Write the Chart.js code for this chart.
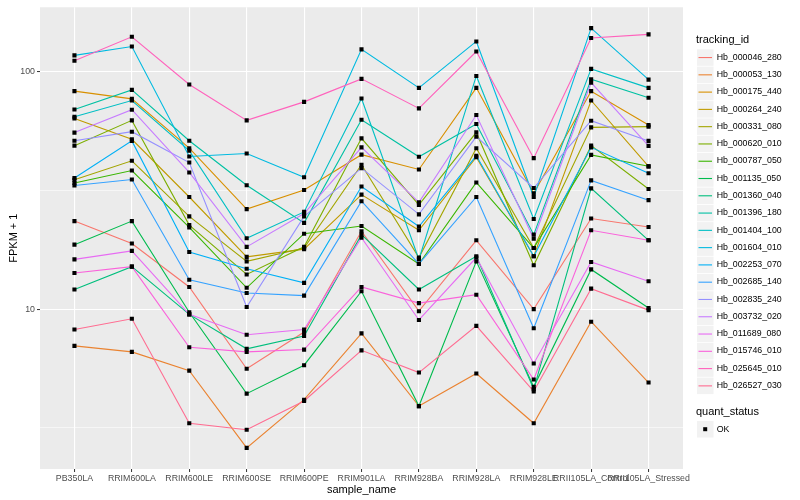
<!DOCTYPE html>
<html>
<head>
<meta charset="utf-8">
<script src="https://cdn.jsdelivr.net/npm/chart.js@4.4.1/dist/chart.umd.min.js"></script>
<style>
  html, body { margin: 0; padding: 0; background: #fff; }
  canvas { display: block; }
</style>
</head>
<body>
<canvas id="grafico_fpkm" width="800" height="500"></canvas>
<script>
const amostras = ["PB350LA", "RRIM600LA", "RRIM600LE", "RRIM600SE", "RRIM600PE", "RRIM901LA",
  "RRIM928BA", "RRIM928LA", "RRIM928LE", "RRII105LA_Control", "RRII105LA_Stressed"];

// FPKM + 1 por amostra
const hb_000046_280 = [23.5, 18.9, 12.4, 5.6, 8.0, 21.3, 9.8, 19.5, 10.0, 24.1, 22.2];
const hb_000053_130 = [7.0, 6.6, 5.5, 2.6, 4.15, 7.9, 3.9, 5.35, 3.3, 8.85, 4.9];
const hb_000175_440 = [83.0, 77.0, 47.7, 26.4, 31.8, 44.8, 38.8, 85.7, 30.8, 83.0, 59.7];
const hb_000264_240 = [63.7, 52.0, 29.7, 16.6, 17.9, 30.4, 21.5, 43.7, 16.7, 75.8, 40.0];
const hb_000331_080 = [35.1, 42.2, 24.6, 15.9, 18.1, 40.6, 16.5, 47.7, 18.1, 58.4, 58.8];
const hb_000620_010 = [48.9, 62.5, 22.6, 14.0, 18.3, 52.5, 27.5, 55.6, 15.3, 48.9, 32.1];
const hb_000787_050 = [34.0, 38.4, 22.1, 12.3, 20.8, 22.4, 15.5, 34.2, 18.1, 44.7, 40.0];
const hb_001135_050 = [18.7, 23.5, 9.7, 4.4, 5.8, 11.9, 3.9, 15.9, 4.7, 14.7, 10.1];
const hb_001360_040 = [12.1, 15.1, 9.5, 6.8, 7.7, 20.6, 12.1, 16.7, 4.6, 32.3, 19.5];
const hb_001396_180 = [69.5, 84.0, 51.3, 33.3, 23.1, 62.9, 43.9, 60.3, 20.6, 93.2, 77.8];
const hb_001404_100 = [64.7, 75.8, 46.6, 19.9, 25.7, 77.3, 16.2, 96.2, 24.0, 103, 85.7];
const hb_001604_010 = [117.5, 128, 44.0, 45.3, 36.0, 124.5, 85.7, 134.5, 29.7, 153, 92.8];
const hb_002253_070 = [35.7, 51.2, 17.4, 14.8, 12.9, 32.9, 22.3, 44.3, 16.7, 48.1, 37.4];
const hb_002685_140 = [33.2, 35.2, 13.3, 11.7, 11.4, 28.5, 15.5, 29.7, 8.3, 34.9, 28.8];
const hb_002835_240 = [51.3, 56.0, 41.5, 10.2, 24.6, 39.3, 25.1, 53.4, 32.4, 62.3, 51.2];
const hb_003732_020 = [55.5, 69.3, 37.7, 18.3, 25.3, 48.1, 28.2, 65.8, 19.8, 90.2, 48.8];
const hb_011689_080 = [16.2, 17.6, 9.5, 7.8, 8.2, 20.0, 9.0, 16.5, 5.9, 15.8, 13.1];
const hb_015746_010 = [14.2, 15.1, 6.9, 6.6, 6.75, 12.4, 10.6, 11.5, 5.05, 21.5, 19.5];
const hb_025645_010 = [111.5, 140.7, 88.5, 62.5, 74.8, 93.5, 70.2, 122, 43.3, 139, 144];
const hb_026527_030 = [8.2, 9.1, 3.3, 3.1, 4.1, 6.7, 5.4, 8.5, 4.5, 12.2, 9.9];

const ticks_y = [10, 100];

const series = [
  ["Hb_000046_280", hb_000046_280, "#F8766D"],
  ["Hb_000053_130", hb_000053_130, "#EA8331"],
  ["Hb_000175_440", hb_000175_440, "#D89000"],
  ["Hb_000264_240", hb_000264_240, "#C09B00"],
  ["Hb_000331_080", hb_000331_080, "#A3A500"],
  ["Hb_000620_010", hb_000620_010, "#7CAE00"],
  ["Hb_000787_050", hb_000787_050, "#39B600"],
  ["Hb_001135_050", hb_001135_050, "#00BB4E"],
  ["Hb_001360_040", hb_001360_040, "#00BF7D"],
  ["Hb_001396_180", hb_001396_180, "#00C1A3"],
  ["Hb_001404_100", hb_001404_100, "#00BFC4"],
  ["Hb_001604_010", hb_001604_010, "#00BAE0"],
  ["Hb_002253_070", hb_002253_070, "#00B0F6"],
  ["Hb_002685_140", hb_002685_140, "#35A2FF"],
  ["Hb_002835_240", hb_002835_240, "#9590FF"],
  ["Hb_003732_020", hb_003732_020, "#C77CFF"],
  ["Hb_011689_080", hb_011689_080, "#E76BF3"],
  ["Hb_015746_010", hb_015746_010, "#FA62DB"],
  ["Hb_025645_010", hb_025645_010, "#FF62BC"],
  ["Hb_026527_030", hb_026527_030, "#FF6C91"],
];

Chart.defaults.font.family = "'Liberation Sans', Arial, sans-serif";

const linhas = series.map(([nome, valores, cor], i) => ({
  label: nome,
  data: valores.map((v, j) => ({ x: j, y: v })),
  borderColor: cor,
  backgroundColor: cor,
  borderWidth: 1.1,
  pointRadius: 0,
  tension: 0,
  fill: false,
  order: series.length - i,
}));

const pontos = {
  type: "scatter",
  label: "OK",
  data: series.flatMap(([, valores]) => valores.map((v, j) => ({ x: j, y: v }))),
  pointStyle: "rect",
  pointRadius: 2.9,
  backgroundColor: "#000",
  borderWidth: 0,
  showLine: false,
  order: 0,
};

// fundo cinza do painel
const painel = {
  id: "painel",
  beforeDraw(chart) {
    const { ctx, chartArea: a } = chart;
    ctx.save();
    ctx.fillStyle = "#EBEBEB";
    ctx.fillRect(a.left, a.top, a.right - a.left, a.bottom - a.top);
    ctx.restore();
  },
};

// legenda no estilo ggplot
const legenda = {
  id: "legenda",
  afterDraw(chart) {
    const ctx = chart.ctx;
    ctx.save();
    ctx.textBaseline = "middle";
    ctx.fillStyle = "#000";
    ctx.font = "11px 'Liberation Sans'";
    ctx.fillText("tracking_id", 696, 40);
    series.forEach(([nome, , cor], i) => {
      const y = 57.3 + i * 17.28;
      ctx.fillStyle = "#F2F2F2";
      ctx.fillRect(697, y - 8, 16.5, 16.5);
      ctx.strokeStyle = cor;
      ctx.lineWidth = 1.1;
      ctx.beginPath();
      ctx.moveTo(698.5, y + 0.25);
      ctx.lineTo(712, y + 0.25);
      ctx.stroke();
      ctx.fillStyle = "#000";
      ctx.font = "8.8px 'Liberation Sans'";
      ctx.fillText(nome, 716.7, y);
    });
    ctx.font = "11px 'Liberation Sans'";
    ctx.fillText("quant_status", 696, 412.3);
    ctx.fillStyle = "#F2F2F2";
    ctx.fillRect(697, 421, 16.5, 16.5);
    ctx.fillStyle = "#000";
    ctx.fillRect(703.2, 427.2, 4, 4);
    ctx.font = "8.8px 'Liberation Sans'";
    ctx.fillText("OK", 716.7, 429.2);
    ctx.restore();
  },
};

new Chart(document.getElementById("grafico_fpkm"), {
  type: "line",
  data: { datasets: [...linhas, pontos] },
  plugins: [painel, legenda],
  options: {
    responsive: false,
    animation: false,
    devicePixelRatio: 1,
    layout: { padding: { top: 5, right: 117, left: 0, bottom: 0 } },
    plugins: { legend: { display: false }, tooltip: { enabled: false } },
    scales: {
      x: {
        type: "linear",
        min: -0.6,
        max: 10.6,
        afterBuildTicks: (s) => { s.ticks = amostras.map((_, i) => ({ value: i })); },
        afterFit: (s) => { s.height = 31; },
        border: { display: false },
        grid: { color: "#FFFFFF", lineWidth: 1.1, tickLength: 3, tickColor: "#333333", tickWidth: 1 },
        ticks: {
          autoSkip: false,
          maxRotation: 0,
          minRotation: 0,
          padding: 1,
          color: "#4D4D4D",
          font: { size: 8.8 },
          callback: (v) => amostras[v],
        },
        title: { display: true, text: "sample_name", color: "#000", font: { size: 11 }, padding: { top: 0, bottom: 3 } },
      },
      y: {
        type: "logarithmic",
        min: 2.117,
        max: 187.4,
        afterBuildTicks: (s) => {
          const menores = ticks_y.map((t) => t / Math.sqrt(10));
          s.ticks = [...menores, ...ticks_y].sort((a, b) => a - b).map((v) => ({ value: v }));
        },
        afterFit: (s) => { s.width = 40; },
        border: { display: false },
        grid: {
          color: "#FFFFFF",
          lineWidth: (c) => (ticks_y.includes(c.tick.value) ? 1.1 : 0.55),
          tickLength: 3,
          tickColor: (c) => (ticks_y.includes(c.tick.value) ? "#333333" : "rgba(0,0,0,0)"),
          tickWidth: 1,
        },
        ticks: {
          padding: 2,
          color: "#4D4D4D",
          font: { size: 8.8 },
          callback: (v) => (ticks_y.includes(v) ? String(v) : ""),
        },
        title: { display: true, text: "FPKM + 1", color: "#000", font: { size: 11 }, padding: { top: 7, bottom: 0 } },
      },
    },
  },
});
</script>
</body>
</html>
